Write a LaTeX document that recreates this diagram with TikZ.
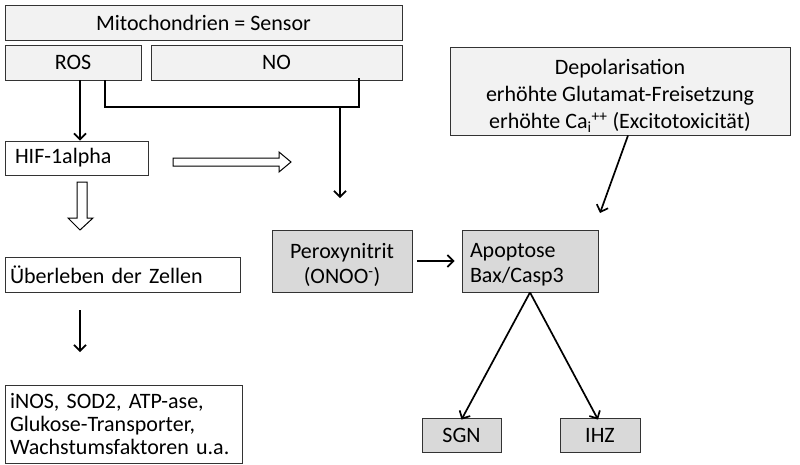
\documentclass[tikz,border=0pt]{standalone}
\usepackage{fontspec}
\setmainfont{Carlito}
\usetikzlibrary{arrows.meta}
\definecolor{lightbox}{HTML}{F2F2F2}
\definecolor{midbox}{HTML}{D9D9D9}
\begin{document}
\begin{tikzpicture}[x=1pt,y=-1pt,
  txt/.style={inner sep=0pt, font=\fontsize{22}{23}\selectfont},
  box/.style={txt, draw=black!80, line width=0.9pt},
  lbox/.style={box, fill=lightbox},
  gbox/.style={box, fill=midbox},
  wbox/.style={box, fill=white},
  conn/.style={line width=1.7pt, -{Straight Barb[length=6pt,width=12pt,line width=1.7pt]}},
  plain/.style={line width=1.1pt},
  hollow/.style={draw=black, line width=1pt, fill=white}]
\useasboundingbox (0,0) rectangle (800,464);

\node[lbox, minimum width=397pt, minimum height=35pt] (mito) at (203.5,22.5) {Mitochondrien = Sensor};
\node[lbox, minimum width=136pt, minimum height=35pt] (ros) at (73,62.5) {ROS};
\node[lbox, minimum width=251pt, minimum height=35pt] (no) at (276.5,62.5) {NO};

\node[wbox, minimum width=143pt, minimum height=34pt, text width=123pt, align=left] (hif) at (76.5,158) {HIF-1alpha};
\node[wbox, minimum width=235pt, minimum height=35pt, text width=225pt, align=left] (ueb) at (122.5,274.5) {Überleben der Zellen};
\node[wbox, minimum width=237pt, minimum height=78pt, text width=227pt, align=left] (inos) at (123.5,424.5) {iNOS, SOD2, ATP-ase,\\Glukose-Transporter,\\Wachstumsfaktoren u.a.};

\node[gbox, minimum width=140pt, minimum height=62pt] (perox) at (342,261) {};
\node[txt, align=center, font=\fontsize{22}{25}\selectfont] (peroxt) at ([yshift=-4pt]perox.center) {Peroxynitrit\\(ONOO\textsuperscript{-})};
\node[gbox, minimum width=136pt, minimum height=62pt] (apop) at (530,261) {};
\node[txt, text width=120pt, align=left, font=\fontsize{22}{25}\selectfont] (apopt) at ([yshift=-4pt]apop.center) {Apoptose\\Bax/Casp3};

\node[lbox, minimum width=340pt, minimum height=88pt] (depol) at (620,91) {};
\node[txt, align=center, font=\fontsize{22}{27}\selectfont] (depolt) at ([yshift=-5pt]depol.center) {Depolarisation\\erhöhte Glutamat-Freisetzung\\erhöhte Ca\textsubscript{i}\textsuperscript{++}\ (Excitotoxicität)};

\node[gbox, minimum width=79pt, minimum height=34pt] (sgn) at (461.5,435) {SGN};
\node[gbox, minimum width=80pt, minimum height=34pt] (ihz) at (600,435) {IHZ};

% connectors
\draw[conn] ([xshift=7pt]ros.south) -- ([xshift=3.5pt]hif.north);
\coordinate (split) at (340,107);
\coordinate (pin) at (340,198);
\draw[plain] ([xshift=32pt]ros.south) |- (split) -| ([xshift=82.5pt,yshift=2pt]no.south);
\draw[conn] (split) -- (pin);

\draw[conn, shorten <=18pt, shorten >=33pt] ([xshift=-42.5pt]ueb.south) -- ([xshift=-43.5pt]inos.north);
\draw[conn, shorten <=5pt, shorten >=7pt] (perox.east) -- (apop.west);
\coordinate (dend) at (600,213);
\draw[conn] ([xshift=8pt]depol.south) -- (dend);
\draw[conn] (apop.south) -- ([yshift=-2pt]sgn.north);
\draw[conn] (apop.south) -- ([xshift=-2pt,yshift=-2pt]ihz.north);

% hollow arrows
\draw[hollow] (173,158) -- (279,158) -- (279,152) -- (291,162) -- (279,172) -- (279,166) -- (173,166) -- cycle;
\draw[hollow] (77,182) -- (87,182) -- (87,218) -- (93,218) -- (80,230) -- (68,218) -- (77,218) -- cycle;
\end{tikzpicture}
\end{document}
